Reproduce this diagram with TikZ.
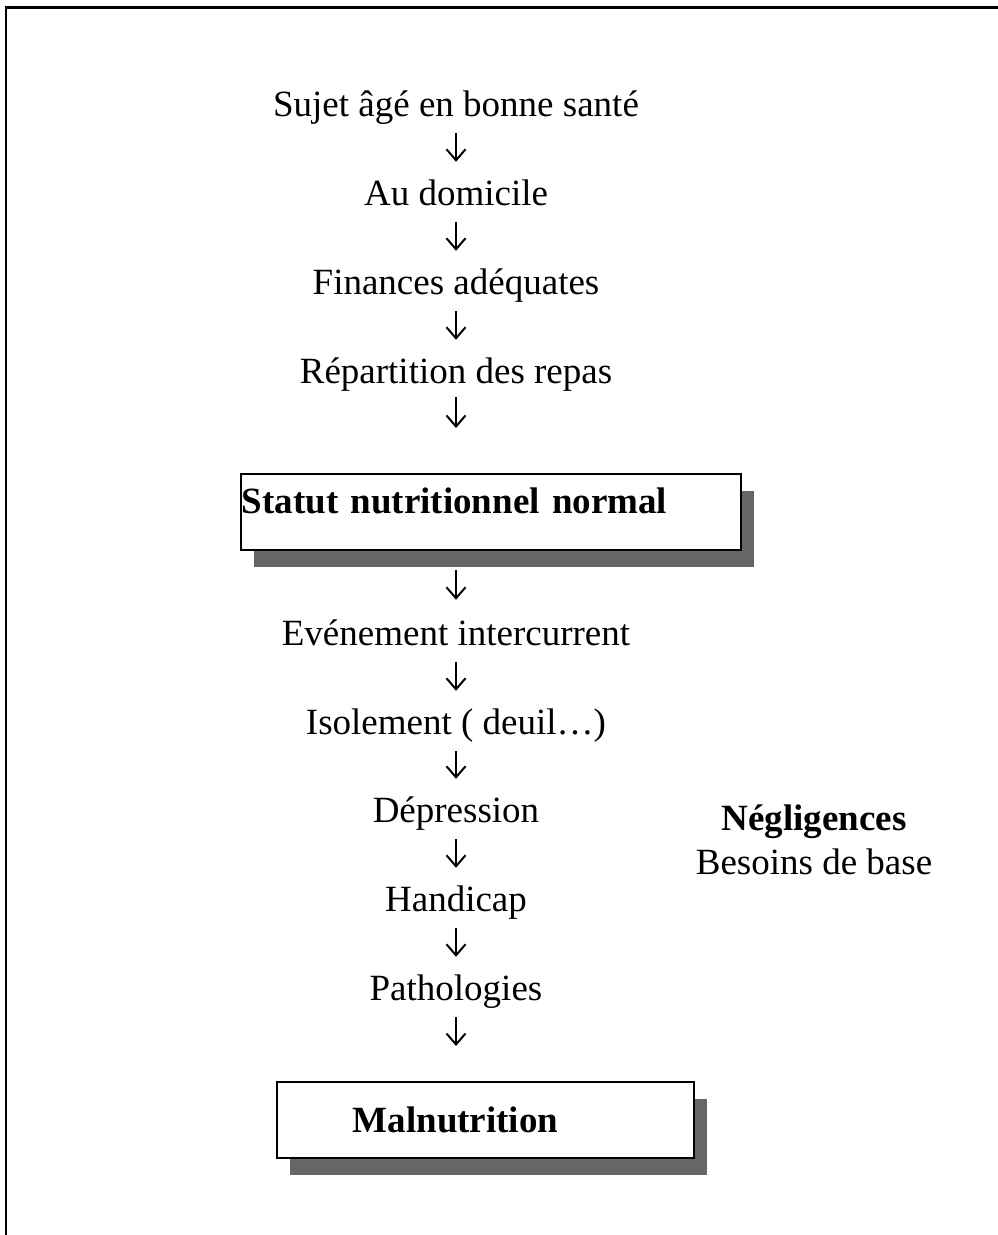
\documentclass[tikz,border=0pt]{standalone}
\usepackage{fontspec}
\setmainfont{Liberation Serif}
\usetikzlibrary{arrows.meta,shadows}
\begin{document}
\begin{tikzpicture}[x=1pt,y=-1pt,
  lbl/.style={font=\fontsize{37}{44}\selectfont, inner sep=0pt, text height=27pt, text depth=9pt, anchor=base},
  arr/.style={-{Straight Barb[length=11pt,width=19pt]}, line width=2pt},
  boxed/.style={draw, line width=1.5pt, fill=white, inner ysep=0pt, anchor=north west, align=left,
    font=\fontsize{37}{44}\selectfont\bfseries,
    drop shadow={shadow xshift=13pt, shadow yshift=-17pt, fill=black!60, opacity=1}},
]
\useasboundingbox (0,0) rectangle (997,1235);
\draw[line width=2pt] (6,1240) -- (6,7);
\draw[line width=3pt] (5,7) -- (1000,7);

\node[lbl] (s1) at (456,116) {Sujet âgé en bonne santé};
\node[lbl] (s2) at (456,205) {Au domicile};
\node[lbl] (s3) at (456,294) {Finances adéquates};
\node[lbl] (s4) at (456,383) {Répartition des repas};

\node[boxed, inner xsep=1pt, text width=498pt, text height=40pt, text depth=36pt] (statut) at (240,473) {Statut nutritionnel normal};

\node[lbl] (e1) at (456,645) {Evénement intercurrent};
\node[lbl] (e2) at (456,734) {Isolement ( deuil…)};
\node[lbl] (e3) at (456,822) {Dépression};
\node[lbl] (e4) at (456,911) {Handicap};
\node[lbl] (e5) at (456,1000) {Pathologies};

\node[boxed, inner xsep=0pt, text width=417pt, text height=51pt, text depth=25pt] (mal) at (276,1081) {\hspace*{76pt}Malnutrition};

\node[lbl, font=\fontsize{37}{44}\selectfont\bfseries] (neg) at (814,830) {Négligences};
\node[lbl] (bes) at (814,874) {Besoins de base};

\draw[arr, shorten <=8pt, shorten >=16pt] (s1) -- (s2);
\draw[arr, shorten <=8pt, shorten >=16pt] (s2) -- (s3);
\draw[arr, shorten <=8pt, shorten >=16pt] (s3) -- (s4);
\draw[arr, shorten <=5pt, shorten >=45pt] (s4) -- (s4 |- statut.north);
\draw[arr, shorten <=19pt, shorten >=18pt] (statut.south -| e1) -- (e1);
\draw[arr, shorten <=8pt, shorten >=16pt] (e1) -- (e2);
\draw[arr, shorten <=8pt, shorten >=16pt] (e2) -- (e3);
\draw[arr, shorten <=8pt, shorten >=16pt] (e3) -- (e4);
\draw[arr, shorten <=8pt, shorten >=16pt] (e4) -- (e5);
\draw[arr, shorten <=8pt, shorten >=35pt] (e5) -- (e5 |- mal.north);
\end{tikzpicture}
\end{document}
